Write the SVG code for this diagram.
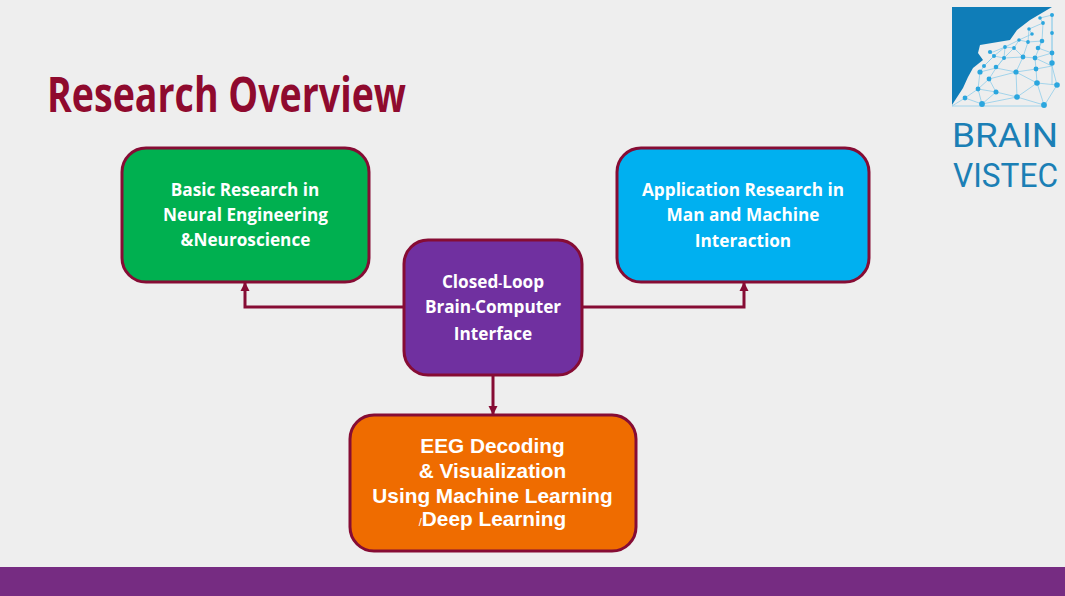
<svg xmlns="http://www.w3.org/2000/svg" width="1065" height="596" viewBox="0 0 1065 596">
<style>
.box{stroke:#860c34;stroke-width:3}
.t{font-family:"Open Sans","Liberation Sans",sans-serif;font-weight:700;font-size:17.2px;fill:#fff;text-anchor:middle}
.a{font-family:"Liberation Sans",Arial,sans-serif;font-weight:700;font-size:20.8px;fill:#fff;text-anchor:middle}
.c{fill:none;stroke:#860c34;stroke-width:3}
.brand{font-family:Roboto,"Open Sans",sans-serif;font-size:34px;fill:#1b7fb5}
.mesh{fill:none;stroke:#8fcdea;stroke-width:.8}
.dots{fill:#2ba6de}
</style>
<defs>
<marker id="arrow" markerUnits="userSpaceOnUse" markerWidth="10" markerHeight="10" refX="9" refY="5" orient="auto"><path d="M0 0.5L9 5L0 9.5z" fill="#860c34"/></marker>
</defs>
<rect width="1065" height="596" fill="#eeeeee"/>
<rect y="567" width="1065" height="29" fill="#762c82"/>
<text x="47" y="112" font-family="'Open Sans','Noto Sans',sans-serif" font-weight="700" font-size="48px" fill="#8f0a2e" textLength="359" lengthAdjust="spacingAndGlyphs">Research Overview</text>
<g id="logo">
<path d="M952 7H1052L1030 20L1017 30L1010 40L980 45L978 53L983 60L973 68L968 77L963 88L952 105z" fill="#0f7db8"/>
<path class="mesh" d="M952 106H1044L1057 85L1052 66L1052 53L1052 33L1052 15L1040 18L1043 23L1029 29L1032 34L1019 40L1028 42L1042 41L1038 48L1052 53L1035 58L1052 66L1036 69L1037 83L1057 85M1044 105L1037 83L1016 72L1036 69L1035 58L1023 57L1016 72L996 68L1004 58L1023 57L1014 48L1004 58L994 56L1005 47L1014 48L1019 40L1005 47L993 52L990 52L994 56L984 66L980 72L996 68L989 79L978 89L996 92L1017 97L1037 83M1017 97L1016 72L989 79L996 92L982 104L978 89L965 98L952 106M965 98L982 104L1017 97L1044 105M984 66L994 56M980 72L978 89M1052 15V85M1043 23L1042 41L1035 58M1029 29L1028 42L1023 57M1005 47L1004 58L996 68"/>
<g class="dots">
<circle cx="1052" cy="15" r="2"/><circle cx="1040" cy="18" r="1.8"/><circle cx="1043" cy="23" r="1.9"/><circle cx="1029" cy="29" r="1.8"/><circle cx="1032" cy="34" r="1.8"/><circle cx="1052" cy="33" r="1.9"/><circle cx="1019" cy="40" r="1.8"/><circle cx="1028" cy="42" r="1.9"/><circle cx="1042" cy="41" r="2.3"/><circle cx="1005" cy="47" r="1.9"/><circle cx="1014" cy="48" r="1.9"/><circle cx="1038" cy="48" r="2.3"/><circle cx="990" cy="52" r="2.1"/><circle cx="994" cy="56" r="2"/><circle cx="1052" cy="53" r="2.4"/><circle cx="1004" cy="58" r="2"/><circle cx="1023" cy="57" r="2.4"/><circle cx="1035" cy="58" r="2.4"/><circle cx="984" cy="66" r="2"/><circle cx="996" cy="67" r="2.3"/><circle cx="1052" cy="63" r="2.7"/><circle cx="980" cy="72" r="2.6"/><circle cx="1016" cy="72" r="2.6"/><circle cx="1036" cy="69" r="2.4"/><circle cx="989" cy="79" r="2.4"/><circle cx="1037" cy="83" r="2.8"/><circle cx="1057" cy="85" r="2.8"/><circle cx="978" cy="89" r="2.4"/><circle cx="996" cy="92" r="2.5"/><circle cx="965" cy="98" r="2.4"/><circle cx="1017" cy="97" r="2.8"/><circle cx="982" cy="104" r="2.9"/><circle cx="1044" cy="105" r="2.9"/>
</g>
<text class="brand" x="952" y="147" textLength="106" lengthAdjust="spacingAndGlyphs">BRAIN</text>
<text class="brand" x="953" y="187" textLength="105" lengthAdjust="spacingAndGlyphs">VISTEC</text>
</g>
<g id="connectors">
<path class="c" d="M404 307H245V282" marker-end="url(#arrow)"/>
<path class="c" d="M582 307H744V282" marker-end="url(#arrow)"/>
<path class="c" d="M493 375V415" marker-end="url(#arrow)"/>
</g>
<g id="node-basic">
<rect class="box" x="122" y="148" width="247" height="134" rx="24" fill="#00b050"/>
<text class="t" x="245" y="195.500">Basic Research in</text>
<text class="t" x="245.500" y="220.500">Neural Engineering</text>
<text class="t" x="245.500" y="245.500">&amp;Neuroscience</text>
</g>
<g id="node-application">
<rect class="box" x="617" y="148" width="252" height="134" rx="24" fill="#00b0f0"/>
<text class="t" x="743" y="195.500">Application Research in</text>
<text class="t" x="743" y="220.500">Man and Machine</text>
<text class="t" x="743" y="246.500">Interaction</text>
</g>
<g id="node-bci">
<rect class="box" x="404" y="240" width="178" height="135" rx="24" fill="#7030a0"/>
<text class="t" x="493" y="287.500">Closed<tspan font-size="12">-</tspan>Loop</text>
<text class="t" x="493" y="312.500">Brain<tspan font-size="12">-</tspan>Computer</text>
<text class="t" x="493" y="339.500">Interface</text>
</g>
<g id="node-eeg">
<rect class="box" x="350" y="415" width="286" height="136" rx="24" fill="#ef6c00"/>
<text class="a" x="492.500" y="453">EEG Decoding</text>
<text class="a" x="492.500" y="478">&amp; Visualization</text>
<text class="a" x="492.500" y="503">Using Machine Learning</text>
<text class="a" x="492.500" y="526"><tspan font-size="11" font-weight="400">/</tspan>Deep Learning</text>
</g>
</svg>
